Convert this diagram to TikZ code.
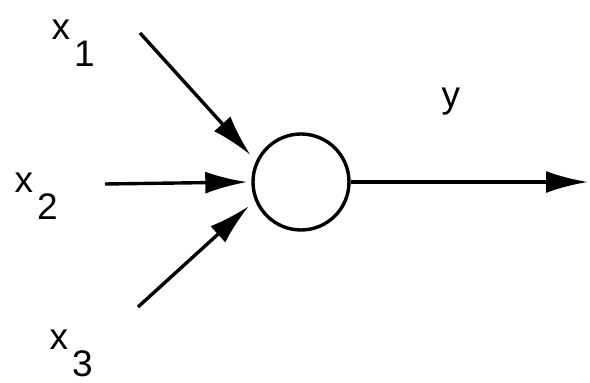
\documentclass[tikz,border=0pt]{standalone}
\usepackage{fontspec}
\setmainfont{Liberation Sans}
\usetikzlibrary{arrows.meta}
\newcommand{\xsub}[1]{x\kern2pt\raisebox{-13.5pt}{#1}}

\begin{document}
\begin{tikzpicture}[x=0.5pt,y=-0.5pt,>={Latex[length=21pt,width=11pt]},line width=1.7pt,
  lbl/.style={font=\fontsize{18.5}{20}\selectfont,inner sep=0pt,anchor=base west}]
  \useasboundingbox (0,0) rectangle (590,383);
  \node[draw,circle,minimum size=48pt,inner sep=0pt] (unit) at (301,182) {};
  \coordinate (in1) at (140,33);
  \coordinate (in2) at (105,184);
  \coordinate (in3) at (138,307);
  \coordinate (out) at (588,182);
  \node[lbl] (x1) at (50,40) {\xsub{1}};
  \node[lbl] (x2) at (13,193) {\xsub{2}};
  \node[lbl] (x3) at (48,350) {\xsub{3}};
  \node[lbl] (y) at (440,108) {y};
  \draw[->,shorten >=4pt] (in1) -- (unit.155);
  \draw[->,shorten >=2pt] (in2) -- (unit.180);
  \draw[->,shorten >=4pt] (in3) -- (unit.202);
  \draw[->] (unit) -- (out);
\end{tikzpicture}
\end{document}
